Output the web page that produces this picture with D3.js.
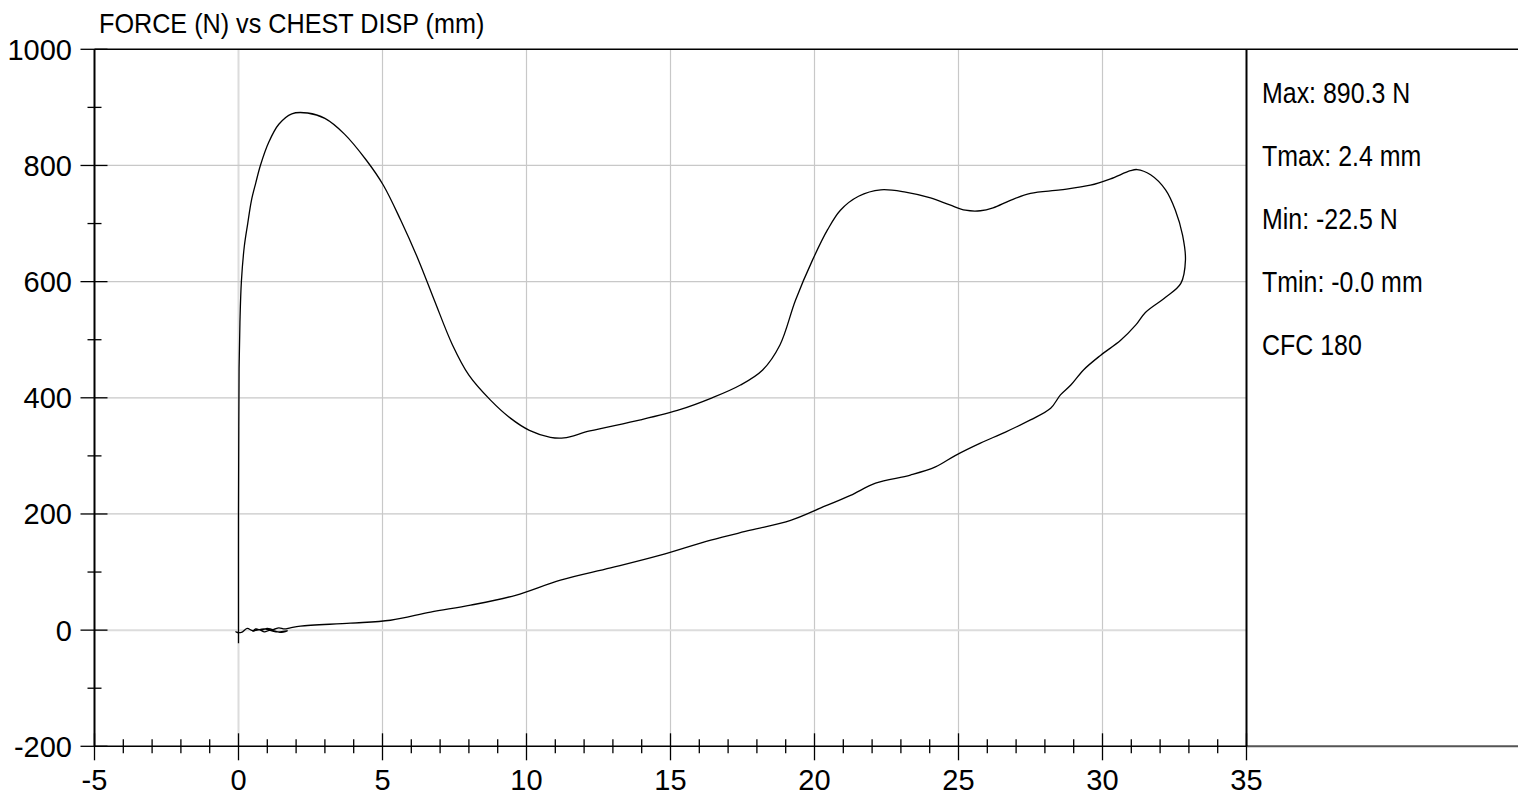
<!DOCTYPE html>
<html><head><meta charset="utf-8">
<script src="https://cdn.jsdelivr.net/npm/d3@7"></script>
<style>body{margin:0;background:#fff}svg{display:block}text{font-family:"Liberation Sans",Arial,sans-serif;fill:#000}</style>
</head><body>
<svg id="c" width="1518" height="799"></svg>
<script>
const title = "FORCE (N) vs CHEST DISP (mm)";
const xTickLabels = [-5,0,5,10,15,20,25,30,35];
const yTickLabels = [-200,0,200,400,600,800,1000];
const statLines = ["Max: 890.3 N","Tmax: 2.4 mm","Min: -22.5 N","Tmin: -0.0 mm","CFC 180"];
// displacement (mm)
const disp = [0,0,0,0.01,0.02,0.05,0.1,0.2,0.32,0.45,0.6,0.76,1.05,1.4,1.85,2.4,3.0,3.68,4.44,5.03,5.63,6.25,6.8,7.43,8.0,8.75,9.44,10.1,10.83,11.3,12.2,13.96,15.35,16.4,17.43,18.2,18.8,19.34,19.93,20.45,20.9,21.53,22.3,23.16,24.03,24.7,25.24,25.76,26.2,26.8,27.5,28.54,29.58,30.28,30.97,31.2,31.67,32.19,32.53,32.78,32.88,32.72,32.19,31.49,31.15,30.63,29.93,29.34,28.9,28.54,28.2,27.5,26.63,25.76,24.9,24.2,23.33,22.12,21.25,20.2,19.17,17.78,16.4,14.65,12.92,11.18,9.62,8.06,6.67,5.28,3.89,2.15,1.8,1.6,1.4,1.2,1.0,0.8,0.6,0.5,0.7,0.9,1.1,1.3,1.5,1.7,1.3,0.9,0.5,0.3,0.1,-0.1,0];
// force (N)
const force = [-22.5,0,200,350,450,530,600,660,700,740,770,800,840,871,889,890.3,881,854,809,766,706,637,568,491,439,396,365,344,332,331,343,362,380,399,422,448,491,568,637,689,723,747,758,754,744,732,723,722,727,740,752,758,766,777,791,793,784,758,723,680,637,597,573,547,525,499,473,448,422,405,382,362,341,322,301,281,267,253,232,210,189,172,155,129,107,86,60,43,31,17,12,7,4,2,4,1,3,0,2,-2,1,-3,0,-2,-4,-1,-3,2,-1,3,-4,-3,-5,-3];

const svg = d3.select("#c");
const x = d3.scaleLinear().domain([-5,35]).range([94.5,1246.5]);
const y = d3.scaleLinear().domain([-200,1000]).range([746.3,49.3]);

// grid
const gx = d3.range(0,35,5), gy = d3.range(0,1000,200);
svg.append("g").selectAll("line").data(gx).join("line")
  .attr("x1",d=>x(d)).attr("x2",d=>x(d)).attr("y1",y(1000)).attr("y2",y(-200))
  .attr("stroke",d=>d===0?"#dcdcdc":"#c8c8c8").attr("stroke-width",d=>d===0?2:1.2);
svg.append("g").selectAll("line").data(gy).join("line")
  .attr("x1",x(-5)).attr("x2",x(35)).attr("y1",d=>y(d)).attr("y2",d=>y(d))
  .attr("stroke",d=>d===0?"#dcdcdc":"#c8c8c8").attr("stroke-width",d=>d===0?2:1.2);

// frame lines
svg.append("line").attr("x1",x(-5)).attr("x2",1518).attr("y1",y(1000)).attr("y2",y(1000)).attr("stroke","#000").attr("stroke-width",1.5);
svg.append("line").attr("x1",x(35)).attr("x2",1518).attr("y1",y(-200)).attr("y2",y(-200)).attr("stroke","#555").attr("stroke-width",2);
svg.append("line").attr("x1",x(-5)).attr("x2",x(35)).attr("y1",y(-200)).attr("y2",y(-200)).attr("stroke","#000").attr("stroke-width",1.5);
svg.append("line").attr("x1",x(-5)).attr("x2",x(-5)).attr("y1",y(1000)).attr("y2",y(-200)).attr("stroke","#000").attr("stroke-width",2);
svg.append("line").attr("x1",x(35)).attr("x2",x(35)).attr("y1",y(1000)).attr("y2",y(-200)).attr("stroke","#000").attr("stroke-width",2);

// ticks x
const xMinor = d3.range(-4,35,1).filter(d=>d%5!==0);
svg.append("g").selectAll("line").data(xMinor).join("line")
  .attr("x1",d=>x(d)).attr("x2",d=>x(d)).attr("y1",y(-200)-7).attr("y2",y(-200)+7).attr("stroke","#000").attr("stroke-width",1.3);
svg.append("g").selectAll("line").data(xTickLabels).join("line")
  .attr("x1",d=>x(d)).attr("x2",d=>x(d)).attr("y1",y(-200)-13).attr("y2",y(-200)+14).attr("stroke","#000").attr("stroke-width",1.3);
// ticks y
const yMinor = d3.range(-100,1000,200);
svg.append("g").selectAll("line").data(yMinor).join("line")
  .attr("x1",x(-5)-7).attr("x2",x(-5)+7).attr("y1",d=>y(d)).attr("y2",d=>y(d)).attr("stroke","#000").attr("stroke-width",1.3);
svg.append("g").selectAll("line").data(yTickLabels).join("line")
  .attr("x1",x(-5)-14).attr("x2",x(-5)+13).attr("y1",d=>y(d)).attr("y2",d=>y(d)).attr("stroke","#000").attr("stroke-width",1.3);

// labels
svg.append("g").selectAll("text").data(xTickLabels).join("text")
  .attr("x",d=>x(d)).attr("y",790).attr("text-anchor","middle").attr("font-size",29).text(d=>d);
svg.append("g").selectAll("text").data(yTickLabels).join("text")
  .attr("x",72).attr("y",d=>y(d)).attr("dy","0.36em").attr("text-anchor","end").attr("font-size",29).text(d=>d);

svg.append("text").attr("transform","translate(99,33) scale(0.9,1)").attr("font-size",28).text(title);

svg.append("g").selectAll("text").data(statLines).join("text")
  .attr("transform",(d,i)=>`translate(1262,${103+i*63}) scale(0.86,1)`).attr("font-size",29).text(d=>d);

// curve
const pts = disp.map((d,i)=>[d,force[i]]);
svg.append("path").datum(pts)
  .attr("d",d3.line().x(d=>x(d[0])).y(d=>y(d[1])).curve(d3.curveCatmullRom.alpha(0.5)))
  .attr("fill","none").attr("stroke","#000").attr("stroke-width",1.3);
</script>
</body></html>
